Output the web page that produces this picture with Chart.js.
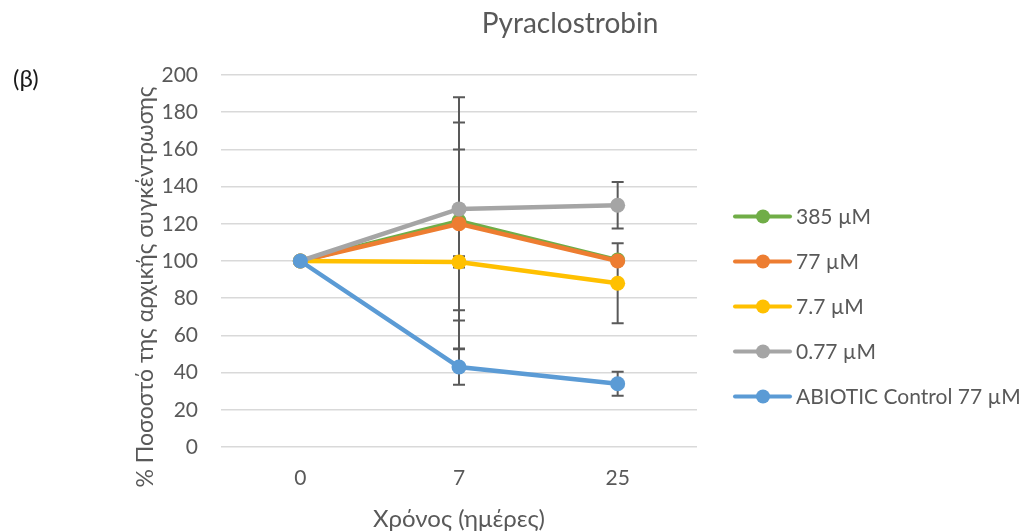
<!DOCTYPE html>
<html>
<head>
<meta charset="utf-8">
<title>Pyraclostrobin</title>
<script src="https://cdn.jsdelivr.net/npm/chart.js@4/dist/chart.umd.min.js"></script>
<style>
  html, body { margin: 0; padding: 0; background: #fff; }
  #wrap { width: 1023px; height: 532px; position: relative; }
</style>
</head>
<body>
<div id="wrap"><canvas id="chart"></canvas></div>
<script>
// Data
const days = ['0', '7', '25'];
const yTicks = [0, 20, 40, 60, 80, 100, 120, 140, 160, 180, 200];

const seriesNames = ['385 µM', '77 µM', '7.7 µM', '0.77 µM', 'ABIOTIC Control 77 µM'];
const seriesColors = ['#70AD47', '#ED7D31', '#FFC000', '#A5A5A5', '#5B9BD5'];

const v385 = [100, 121.5, 100.5];
const v77 = [100, 120, 100];
const v7_7 = [100, 99.5, 88];
const v0_77 = [100, 128, 130];
const vAbiotic = [100, 43, 34];

// error bars (plus / minus)
const errPlus385 = [0, 53, 0];
const errMinus385 = [0, 48, 0];
const errPlus77 = [0, 40, 0];
const errMinus77 = [0, 67, 0];
const errPlus7_7 = [0, 3, 21.5];
const errMinus7_7 = [0, 3, 21.5];
const errPlus0_77 = [0, 60, 12.5];
const errMinus0_77 = [0, 60, 12.5];
const errPlusAbiotic = [0, 9.5, 6.5];
const errMinusAbiotic = [0, 9.5, 6.5];

const seriesValues = [v385, v77, v7_7, v0_77, vAbiotic];
const seriesPlus = [errPlus385, errPlus77, errPlus7_7, errPlus0_77, errPlusAbiotic];
const seriesMinus = [errMinus385, errMinus77, errMinus7_7, errMinus0_77, errMinusAbiotic];

const FONT = "Lato, 'Open Sans', 'Noto Sans', sans-serif";
const TEXT = '#595959';

const datasets = seriesNames.map((name, i) => ({
  label: name,
  data: seriesValues[i],
  errPlus: seriesPlus[i],
  errMinus: seriesMinus[i],
  borderColor: seriesColors[i],
  backgroundColor: seriesColors[i],
  borderWidth: 4.5,
  pointRadius: 7.5,
  pointHoverRadius: 7.5,
  pointBorderWidth: 0,
  pointStyle: 'circle',
  tension: 0,
  // later series drawn on top, like Excel
  order: seriesNames.length - i
}));

// error bars drawn under the lines
const errorBars = {
  id: 'errorBars',
  beforeDatasetsDraw(chart) {
    const ctx = chart.ctx;
    const y = chart.scales.y;
    ctx.save();
    ctx.strokeStyle = '#595959';
    ctx.lineWidth = 2;
    chart.data.datasets.forEach((ds, di) => {
      const meta = chart.getDatasetMeta(di);
      ds.data.forEach((v, i) => {
        const up = ds.errPlus[i], dn = ds.errMinus[i];
        if (!up && !dn) return;
        const x = meta.data[i].x;
        const yt = y.getPixelForValue(v + up);
        const yb = y.getPixelForValue(v - dn);
        ctx.beginPath();
        ctx.moveTo(x, yt); ctx.lineTo(x, yb);
        ctx.moveTo(x - 6, yt); ctx.lineTo(x + 6, yt);
        ctx.moveTo(x - 6, yb); ctx.lineTo(x + 6, yb);
        ctx.stroke();
      });
    });
    ctx.restore();
  }
};

// chart title, panel letter, y axis title and the legend on the right
const labels = {
  id: 'labels',
  afterDraw(chart) {
    const ctx = chart.ctx;
    const area = chart.chartArea;
    ctx.save();
    ctx.fillStyle = TEXT;
    ctx.font = '28px ' + FONT;
    ctx.textAlign = 'center';
    ctx.textBaseline = 'alphabetic';
    ctx.fillText('Pyraclostrobin', 570, 33);

    ctx.fillStyle = '#1a1a1a';
    ctx.font = '24px ' + FONT;
    ctx.textAlign = 'left';
    ctx.textBaseline = 'middle';
    ctx.fillText('(β)', 13, 79);

    // legend
    ctx.font = '21px ' + FONT;
    seriesNames.forEach((name, i) => {
      const ly = 216.5 + 45 * i;
      const lx = area.right + 38;
      ctx.strokeStyle = seriesColors[i];
      ctx.lineWidth = 4;
      ctx.lineCap = 'round';
      ctx.beginPath();
      ctx.moveTo(lx, ly);
      ctx.lineTo(lx + 55, ly);
      ctx.stroke();
      ctx.fillStyle = seriesColors[i];
      ctx.beginPath();
      ctx.arc(lx + 28, ly, 7, 0, Math.PI * 2);
      ctx.fill();
      ctx.fillStyle = TEXT;
      ctx.fillText(name, lx + 61, ly + 1);
    });

    ctx.fillStyle = TEXT;
    ctx.font = '23px ' + FONT;
    ctx.translate(146, (area.top + area.bottom) / 2 + 26);
    ctx.rotate(-Math.PI / 2);
    ctx.textAlign = 'center';
    ctx.fillText('% Ποσοστό της αρχικής συγκέντρωσης', 0, 0);
    ctx.restore();
  }
};

new Chart(document.getElementById('chart'), {
  type: 'line',
  data: { labels: days, datasets: datasets },
  plugins: [errorBars, labels],
  options: {
    responsive: true,
    maintainAspectRatio: false,
    animation: false,
    devicePixelRatio: 1,
    layout: { padding: { top: 75, bottom: 0, left: 0, right: 326 } },
    plugins: {
      title: { display: false },
      tooltip: { enabled: false },
      legend: { display: false }
    },
    scales: {
      x: {
        offset: true,
        afterFit(scale) { scale.height = 85; },
        grid: { display: false, drawTicks: false },
        border: { display: false },
        ticks: { color: TEXT, padding: 19, font: { family: FONT, size: 21 } },
        title: {
          display: true,
          text: 'Χρόνος (ημέρες)',
          color: TEXT,
          padding: { top: 0, bottom: 1 },
          font: { family: FONT, size: 24, lineHeight: 1 }
        }
      },
      y: {
        min: 0,
        max: 200,
        afterBuildTicks(scale) { scale.ticks = yTicks.map(v => ({ value: v })); },
        afterFit(scale) { scale.width = 221; },
        grid: { color: '#D9D9D9', lineWidth: 1.5, drawTicks: false },
        border: { display: false },
        ticks: { color: TEXT, padding: 23, font: { family: FONT, size: 21 } }
      }
    }
  }
});
</script>
</body>
</html>
